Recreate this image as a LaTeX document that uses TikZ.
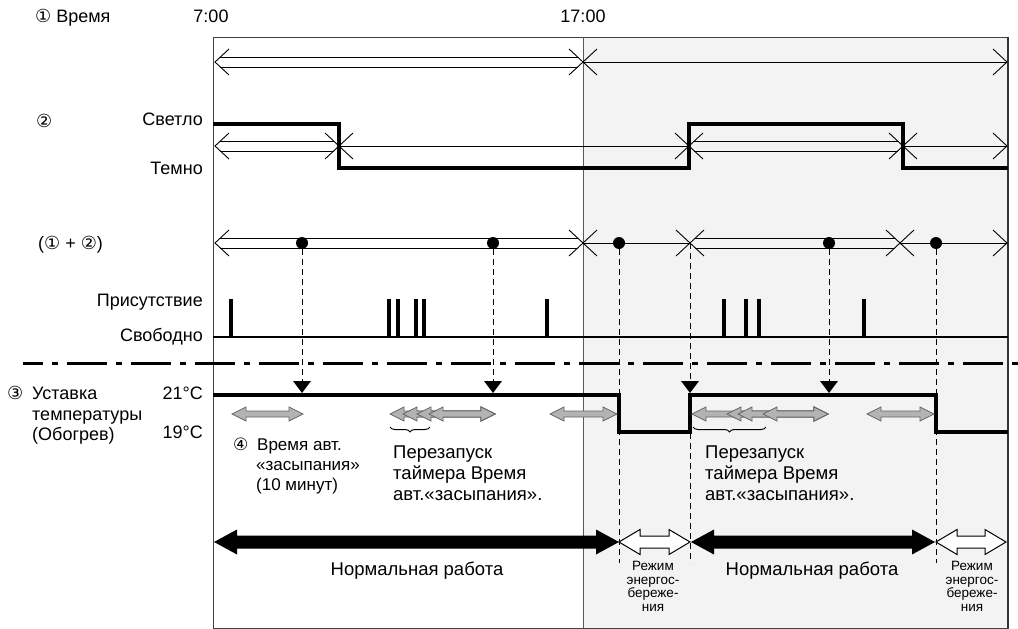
\documentclass[tikz,border=0pt]{standalone}
\usepackage{fontspec}
\setmainfont{Liberation Sans}
\newfontfamily\symfont{DejaVu Sans}
\usetikzlibrary{decorations.pathreplacing}
\definecolor{shadebg}{HTML}{F3F3F3}
\definecolor{arrgray}{HTML}{B3B3B3}
\definecolor{arredge}{HTML}{666666}
\newcommand\tightfont{\fontsize{13.5}{13.6}\selectfont\lineskiplimit=-20pt\relax\lineskip=0pt\relax}
% chevrons and segments (x, y)
\newcommand\chevL[2]{\draw[tl] (#1+14,#2-13) -- (#1,#2) -- (#1+14,#2+13);}
\newcommand\chevR[2]{\draw[tl] (#1-14,#2-13) -- (#1,#2) -- (#1-14,#2+13);}
\newcommand\dblseg[3]{\draw[tl] (#1+5,#3-5) -- (#2-5,#3-5) (#1+5,#3+5) -- (#2-5,#3+5);}
\newcommand\sglseg[3]{\draw[tl] (#1,#3) -- (#2,#3);}
% double arrow polygon: style, x1, x2, y, body half, head half, head length
\newcommand\darrow[7]{\path[#1] (#2,#4) -- (#2+#7,#4-#6) -- (#2+#7,#4-#5) -- (#3-#7,#4-#5) -- (#3-#7,#4-#6) -- (#3,#4) -- (#3-#7,#4+#6) -- (#3-#7,#4+#5) -- (#2+#7,#4+#5) -- (#2+#7,#4+#6) -- cycle;}
\newcommand\tri[1]{\fill (#1,393) -- (#1-9,381) -- (#1+9,381) -- cycle;}
\begin{document}
\begin{tikzpicture}[x=1pt,y=-1pt,
  tl/.style={line width=0.9pt},
  sig/.style={line width=3.5pt},
  pulse/.style={line width=4pt},
  vdash/.style={line width=0.9pt, dash pattern=on 6pt off 4pt},
  dot/.style={circle, fill=black, inner sep=0pt, minimum size=12pt},
  lbl/.style={inner sep=0pt, font=\fontsize{18}{21}\selectfont},
  lblm/.style={inner sep=0pt, font=\fontsize{18.5}{21}\selectfont},
  lbls/.style={inner sep=0pt, font=\fontsize{17}{20}\selectfont},
  lblt/.style={inner sep=0pt, align=center, font=\tightfont},
  grayarr/.style={fill=arrgray, draw=arredge, line width=0.7pt},
  blackarr/.style={fill=black},
  whitearr/.style={fill=white, draw=black, line width=1pt}]
\useasboundingbox (0,0) rectangle (1018,629);
% background and frame
\fill[shadebg] (583,37) rectangle (1008,628);
\draw[line width=1pt, black!75] (213,37) rectangle (1008,628);
\draw[line width=1.6pt, black!80] (1008,37) -- (1008,628);
\draw[line width=0.8pt, black!65] (583,37) -- (583,628);

% header texts
\node[lbl, anchor=base west] (tTime) at (35,22) {{\symfont ①} Время};
\node[lbl, anchor=base] (t7) at (211,22) {7:00};
\node[lbl, anchor=base] (t17) at (583,22) {17:00};

% row 1
\chevL{215}{62} \dblseg{215}{583}{62} \chevR{583}{62}
\chevL{583}{62} \sglseg{583}{1007}{62} \chevR{1007}{62}

% row 2 labels
\node[lbl, anchor=base west] (t2) at (36,127) {{\symfont ②}};
\node[lbl, anchor=base east] (tLight) at (203,125) {Светло};
\node[lbl, anchor=base east] (tDark) at (203,174) {Темно};
\draw[sig] (213,124) -- (339,124) -- (339,168) -- (689,168) -- (689,124) -- (903,124) -- (903,168) -- (1008,168);
\chevL{215}{146} \dblseg{215}{339}{146} \chevR{339}{146}
\chevL{339}{146} \sglseg{339}{689}{146} \chevR{689}{146}
\chevL{689}{146} \dblseg{689}{903}{146} \chevR{903}{146}
\chevL{903}{146} \sglseg{903}{1007}{146} \chevR{1007}{146}

% row 3
\node[lbl, anchor=base west] (t12) at (38,249) {({\symfont ①} + {\symfont ②})};
\chevL{215}{243} \dblseg{215}{583}{243} \chevR{583}{243}
\chevL{583}{243} \sglseg{583}{690}{243} \chevR{690}{243}
\chevL{690}{243} \dblseg{690}{900}{243} \chevR{900}{243}
\chevL{900}{243} \sglseg{900}{1007}{243} \chevR{1007}{243}
\node[dot] (d1) at (302,243) {};
\node[dot] (d2) at (493,243) {};
\node[dot] (d3) at (619,243) {};
\node[dot] (d4) at (829,243) {};
\node[dot] (d5) at (936,243) {};
\coordinate (x4) at (690,243);

% presence
\node[lbl, anchor=base east] (tPres) at (203,306) {Присутствие};
\node[lbl, anchor=base east] (tFree) at (203,341) {Свободно};
\draw[line width=2.5pt] (213,337) -- (1008,337);
\foreach \p in {231,389,398,416,424,547,724,746,759,864}
  \draw[pulse] (\p,299) -- (\p,337);

% dash-dot separator
\draw[line width=3pt, dash pattern=on 40pt off 9pt on 6pt off 9pt, dash phase=20pt] (23,363) -- (1018,363);

% dashed verticals
\coordinate (a1) at (302,382);
\coordinate (a2) at (493,382);
\coordinate (a4) at (829,382);
\coordinate (b3) at (619,563);
\coordinate (b4) at (690,563);
\coordinate (b5) at (936,563);
\draw[vdash] (d1) -- (a1);
\draw[vdash] (d2) -- (a2);
\draw[vdash] (d4) -- (a4);
\draw[vdash] (d3) -- (b3);
\draw[vdash] (x4) -- (b4);
\draw[vdash] (d5) -- (b5);
\tri{302} \tri{493} \tri{690} \tri{829}

% temperature
\node[lbl, anchor=base west] (t3) at (7,399) {{\symfont ③}};
\node[lbl, anchor=base west] (tSet1) at (32,399) {Уставка};
\node[lbl, anchor=base west] (tSet2) at (32,420) {температуры};
\node[lbl, anchor=base west] (tSet3) at (32,440) {(Обогрев)};
\node[lbl, anchor=base east] (t21) at (203,399) {21°C};
\node[lbl, anchor=base east] (t19) at (203,438) {19°C};
\draw[sig] (213,395) -- (619,395) -- (619,432) -- (690,432) -- (690,395) -- (936,395) -- (936,432) -- (1008,432);

% gray timer arrows
\darrow{grayarr}{232}{303}{414}{3}{7}{14}
\foreach \s in {390,403,417,429} { \darrow{grayarr}{\s}{495}{414}{3}{7}{14} }
\darrow{grayarr}{550}{617}{414}{3}{7}{14}
\foreach \s in {692,727,738,763} { \darrow{grayarr}{\s}{828}{414}{3}{7}{14} }
\darrow{grayarr}{867}{934}{414}{3}{7}{14}

% braces
\draw[line width=1pt, decorate, decoration={brace, mirror, amplitude=5pt}] (390,427) -- (430,427);
\draw[line width=1pt, decorate, decoration={brace, mirror, amplitude=5pt}] (693,427) -- (766,427);

% notes
\node[lbls, anchor=base west] (t4) at (233,450) {{\symfont ④}};
\node[lbls, anchor=base west] (tS1) at (257,450) {Время авт.};
\node[lbls, anchor=base west] (tS2) at (256,470) {«засыпания»};
\node[lbls, anchor=base west] (tS3) at (256,490) {(10 минут)};
\node[lblm, anchor=base west] (tR1) at (393,458) {Перезапуск};
\node[lblm, anchor=base west] (tR2) at (393,479) {таймера Время};
\node[lblm, anchor=base west] (tR3) at (393,500) {авт.«засыпания».};
\node[lblm, anchor=base west] (tQ1) at (705,458) {Перезапуск};
\node[lblm, anchor=base west] (tQ2) at (705,479) {таймера Время};
\node[lblm, anchor=base west] (tQ3) at (705,500) {авт.«засыпания».};

% mode arrows
\darrow{blackarr}{214}{619}{542}{6.5}{12.5}{23}
\darrow{whitearr}{619}{690}{542}{6}{12.5}{21}
\darrow{blackarr}{691}{935}{542}{6.5}{12.5}{23}
\darrow{whitearr}{936}{1006}{542}{6}{12.5}{21}
\node[lblm, anchor=base] (tN1) at (417,575) {Нормальная работа};
\node[lblm, anchor=base] (tN2) at (812,575) {Нормальная работа};
\node[lblt, anchor=north] (tE1) at (653,561) {Режим\\энергос-\\береже-\\ния};
\node[lblt, anchor=north] (tE2) at (972,561) {Режим\\энергос-\\береже-\\ния};
\end{tikzpicture}
\end{document}
